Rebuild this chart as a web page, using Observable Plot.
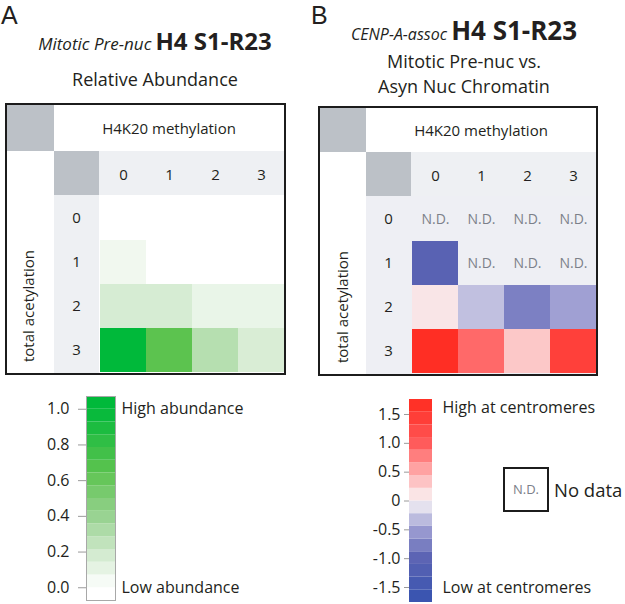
<!DOCTYPE html>
<html><head><meta charset="utf-8">
<script src="https://cdn.jsdelivr.net/npm/d3@7"></script>
<script src="https://cdn.jsdelivr.net/npm/@observablehq/plot@0.6"></script>
<style>
html,body{margin:0;padding:0;background:#fff;}
#root{position:relative;width:625px;height:604px;overflow:hidden;font-family:"Open Sans",sans-serif;color:#231f20;}
#root div{position:absolute;white-space:nowrap;}
#root svg{overflow:visible;}
</style></head>
<body><div id="root"></div>
<script>
// ---------- DATA ----------
const methylation = ["0", "1", "2", "3"];          // H4K20 methylation (columns)
const acetylation = ["0", "1", "2", "3"];          // total acetylation (rows)
// Panel A: relative abundance (rows = acetylation 0..3)
const abundanceAc0 = [0, 0, 0, 0];
const abundanceAc1 = [0.06, 0, 0, 0];
const abundanceAc2 = [0.17, 0.17, 0.09, 0.09];
const abundanceAc3 = [1.0, 0.65, 0.29, 0.16];
// Panel B: CENP-A-assoc vs asynchronous (null = N.D.)
const ratioAc0 = [null, null, null, null];
const ratioAc1 = [-1.05, null, null, null];
const ratioAc2 = [0.1, -0.3, -0.75, -0.48];
const ratioAc3 = [1.7, 0.9, 0.3, 1.4];
// legend ticks
const abundanceTicks = [0, 0.2, 0.4, 0.6, 0.8, 1.0];
const ratioTicks = [-1.5, -1.0, -0.5, 0, 0.5, 1.0, 1.5];
// colour ramps (read from the legends)
const greenStops = [0, 0.2, 0.4, 0.65, 1.0];
const greenColors = ["#ffffff", "#cfe9cb", "#97d290", "#5cc34f", "#00b93a"];
const divStops = [-1.76, -1.0, -0.5, 0, 0.5, 1.0, 1.76];
const divColors = ["#3553af", "#5b63b3", "#9c9dd2", "#f8f4f6", "#ffaaaa", "#ff5959", "#ff2a1f"];

// ---------- helpers ----------
const FONT = '"Open Sans", sans-serif';
const root = document.getElementById("root");
function div(style, text, parent = root) {
  const e = document.createElement("div");
  Object.assign(e.style, style);
  if (text != null) e.textContent = text;
  parent.appendChild(e);
  return e;
}
const abundanceRows = [abundanceAc0, abundanceAc1, abundanceAc2, abundanceAc3];
const ratioRows = [ratioAc0, ratioAc1, ratioAc2, ratioAc3];
const cellsA = acetylation.flatMap((a, i) => methylation.map((m, j) => ({acet: a, meth: m, value: abundanceRows[i][j]})));
const cellsB = acetylation.flatMap((a, i) => methylation.map((m, j) => ({acet: a, meth: m, value: ratioRows[i][j]})));

const greenScale = {type: "linear", domain: greenStops, range: greenColors, interpolate: "rgb", clamp: true};
const divScale = {type: "linear", domain: divStops, range: divColors, interpolate: "rgb", clamp: true};

// ---------- titles ----------
div({left: "1px", top: "1px", fontFamily: "Arial, 'Liberation Sans', sans-serif", fontSize: "25px", lineHeight: "28px"}, "A");
div({left: "311px", top: "1px", fontFamily: "Arial, 'Liberation Sans', sans-serif", fontSize: "25px", lineHeight: "28px"}, "B");
div({left: "0px", width: "310px", top: "26px", textAlign: "center", lineHeight: "30px"}).innerHTML =
  '<span style="font-style:italic;font-size:17px">Mitotic Pre-nuc</span> <span style="font-weight:700;font-size:24px">H4 S1-R23</span>';
div({left: "0px", width: "310px", top: "68px", textAlign: "center", fontSize: "18px", lineHeight: "22px"}, "Relative Abundance");
div({left: "314px", width: "300px", top: "15px", textAlign: "center", lineHeight: "30px"}).innerHTML =
  '<span style="font-style:italic;font-size:16px">CENP-A-assoc</span> <span style="font-weight:700;font-size:26px">H4 S1-R23</span>';
div({left: "314px", width: "300px", top: "50px", textAlign: "center", fontSize: "18px", lineHeight: "22px"}, "Mitotic Pre-nuc vs.");
div({left: "314px", width: "300px", top: "75px", textAlign: "center", fontSize: "18px", lineHeight: "22px"}, "Asyn Nuc Chromatin");

// ---------- heatmap panels ----------
const GRAY = "#bcc1c7", STRIP = "#eef0f3";
function panel({left, top, w, h, c1w, c1h, c2w, c2h, dataBg, leftCenterX, leftCenterY, plot}) {
  const box = div({left: left + "px", top: top + "px", width: w + "px", height: h + "px", border: "2px solid #1c1c1c", background: "#fff", overflow: "hidden"});
  div({left: "0px", top: "0px", width: c1w + "px", height: c1h + "px", background: GRAY}, null, box);
  div({left: c1w + "px", top: "0px", width: (w - c1w) + "px", height: c1h + "px", lineHeight: c1h + "px", textAlign: "center", fontSize: "15px"}, "H4K20 methylation", box);
  div({left: c1w + "px", top: c1h + "px", width: (w - c1w) + "px", height: c2h + "px", background: STRIP}, null, box);
  div({left: c1w + "px", top: c1h + "px", width: c2w + "px", height: c2h + "px", background: GRAY}, null, box);
  div({left: c1w + "px", top: (c1h + c2h) + "px", width: (dataBg ? w - c1w : c2w) + "px", height: (h - c1h - c2h) + "px", background: dataBg || STRIP}, null, box);
  div({left: leftCenterX + "px", top: leftCenterY + "px", fontSize: "15px", lineHeight: "18px", transform: "translate(-50%,-50%) rotate(-90deg)"}, "total acetylation", box);
  const holder = div({left: "0px", top: "0px", width: w + "px", height: h + "px"}, null, box);
  holder.appendChild(plot);
}

function heatPlot(w, h, mL, mT, cells, color, withND) {
  const marks = [
    Plot.cell(cells.filter(d => d.value != null), {x: "meth", y: "acet", fill: "value", inset: 0}),
    Plot.axisX({anchor: "top", tickSize: 0, tickPadding: 16, fontSize: 15, label: null}),
    Plot.axisY({anchor: "left", tickSize: 0, tickPadding: 23, textAnchor: "middle", fontSize: 15, label: null})
  ];
  if (withND) marks.push(Plot.text(cells.filter(d => d.value == null), {x: "meth", y: "acet", text: () => "N.D.", fill: "#7b8089", fontSize: 14}));
  return Plot.plot({
    width: w, height: h, marginLeft: mL, marginTop: mT, marginRight: 0, marginBottom: 0,
    style: {background: "transparent", fontFamily: FONT, color: "#231f20", overflow: "visible"},
    x: {type: "band", domain: methylation, padding: 0},
    y: {type: "band", domain: acetylation, padding: 0},
    color: color,
    marks
  });
}

panel({left: 5, top: 103, w: 277, h: 268, c1w: 47, c1h: 46, c2w: 45, c2h: 44, dataBg: null, leftCenterX: 21, leftCenterY: 201,
  plot: heatPlot(277, 268, 92, 90, cellsA, greenScale, false)});
panel({left: 318, top: 106, w: 276, h: 266, c1w: 46, c1h: 44, c2w: 45, c2h: 44, dataBg: "#eeeff4", leftCenterX: 22, leftCenterY: 199,
  plot: heatPlot(276, 266, 91, 88, cellsB, divScale, true)});

// ---------- legends ----------
const greenBands = d3.range(16).map(k => ({lo: (k - 1) / 14, hi: k / 14, mid: (k - 0.5) / 14}));
const legA = Plot.plot({
  width: 300, height: 214, marginLeft: 86, marginRight: 185, marginTop: 6, marginBottom: 4,
  style: {background: "transparent", fontFamily: FONT, color: "#231f20", overflow: "visible"},
  y: {domain: [-1 / 14, 15 / 14]},
  color: greenScale,
  marks: [
    Plot.rect(greenBands, {y1: "lo", y2: "hi", fill: "mid"}),
    Plot.frame({stroke: "#a8a8a8"}),
    Plot.axisY({ticks: abundanceTicks, tickFormat: d3.format(".1f"), tickSize: 8, tickPadding: 9, stroke: "#9a9a9a", fill: "#231f20", fontSize: 16, label: null}),
    Plot.text([{v: 1.0, t: "High abundance"}, {v: 0.0, t: "Low abundance"}], {y: "v", text: "t", frameAnchor: "right", textAnchor: "start", dx: 6, fontSize: 16, fill: "#231f20"})
  ]
});
const legAHolder = div({left: "0px", top: "390px", width: "300px", height: "214px"});
legAHolder.appendChild(legA);

const divBands = d3.range(16).map(k => ({lo: -1.76 + k * 0.22, hi: -1.76 + (k + 1) * 0.22, mid: -1.76 + (k + 0.5) * 0.22}));
const legB = Plot.plot({
  width: 315, height: 214, marginLeft: 99, marginRight: 193, marginTop: 9, marginBottom: 2,
  style: {background: "transparent", fontFamily: FONT, color: "#231f20", overflow: "visible"},
  y: {domain: [-1.76, 1.76]},
  color: divScale,
  marks: [
    Plot.rect(divBands, {y1: "lo", y2: "hi", fill: "mid"}),
    Plot.axisY({ticks: ratioTicks, tickFormat: d => d === 0 ? "0" : d3.format(".1f")(d).replace("−", "-"), tickSize: 5, tickPadding: 4, stroke: "#9a9a9a", fill: "#231f20", fontSize: 16, label: null}),
    Plot.text([{v: 1.62, t: "High at centromeres"}, {v: -1.5, t: "Low at centromeres"}], {y: "v", text: "t", frameAnchor: "right", textAnchor: "start", dx: 10, fontSize: 16, fill: "#231f20"})
  ]
});
const legBHolder = div({left: "310px", top: "390px", width: "315px", height: "214px"});
legBHolder.appendChild(legB);

// N.D. key
div({left: "503px", top: "467px", width: "42px", height: "41px", border: "2px solid #1c1c1c", textAlign: "center", lineHeight: "41px", fontSize: "13px", color: "#7b8089"}, "N.D.");
div({left: "554px", top: "476px", fontSize: "18.5px", lineHeight: "28px"}, "No data");
</script>
</body></html>
